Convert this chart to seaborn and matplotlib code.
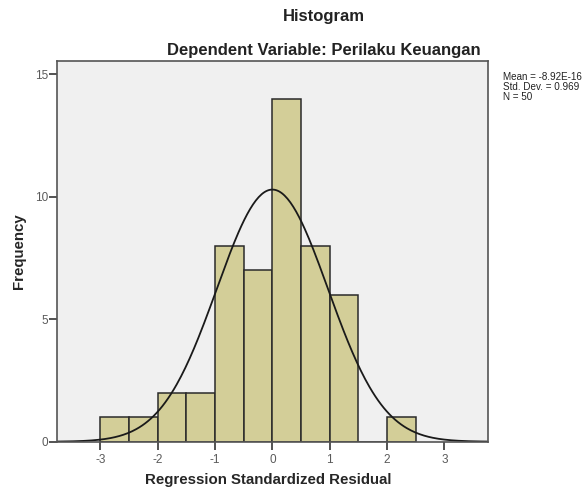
import numpy as np
import pandas as pd
import matplotlib.pyplot as plt
import seaborn as sns

# bins of width 0.5 from -3 to 2.5
bin_edges = [-3.0, -2.5, -2.0, -1.5, -1.0, -0.5, 0.0, 0.5, 1.0, 1.5, 2.0, 2.5]
counts    = [1, 1, 2, 2, 8, 7, 14, 8, 6, 0, 1]
mean_val  = -8.92e-16
std_val   = 0.969
n_obs     = 50

BAR_COLOR = '#D3CE98'
BG_COLOR  = '#F0F0F0'

sns.set_style('white')
plt.rcParams['font.family'] = ['Liberation Sans', 'DejaVu Sans']
plt.rcParams['axes.unicode_minus'] = False

df = pd.DataFrame({
    'center': [(bin_edges[i] + bin_edges[i + 1]) / 2 for i in range(len(counts))],
    'count': counts,
})

fig = plt.figure(figsize=(5.83, 4.88), dpi=100)
ax = fig.add_axes([0.0983, 0.0949, 0.7388, 0.780])
ax.set_facecolor(BG_COLOR)

sns.histplot(data=df, x='center', weights='count', bins=bin_edges,
             color=BAR_COLOR, alpha=1, edgecolor='#2a2a2a', linewidth=1.1, ax=ax)

# normal curve from the reported statistics
xs = np.linspace(-3.75, 3.75, 300)
binw = bin_edges[1] - bin_edges[0]
ys = n_obs * binw / (std_val * np.sqrt(2 * np.pi)) * np.exp(-0.5 * ((xs - mean_val) / std_val) ** 2)
sns.lineplot(x=xs, y=ys, color='#1a1a1a', linewidth=1.3, ax=ax)

ax.set_xlim(-3.75, 3.76)
ax.set_ylim(0, 15.54)
ax.set_xticks([-3, -2, -1, 0, 1, 2, 3])
ax.set_yticks([0, 5, 10, 15])
ax.tick_params(axis='both', direction='out', length=5.8, width=1.3, color='#444444',
               bottom=True, left=True, labelsize=8.5, labelcolor='#5a5a5a', pad=1)
ax.tick_params(axis='x', pad=3)
for s in ax.spines.values():
    s.set_color('#555555')
    s.set_linewidth(1.2)

ax.set_xlabel('Regression Standardized Residual', fontsize=10.8, fontweight='bold')
ax.set_ylabel('Frequency', fontsize=10.8, fontweight='bold')
ax.xaxis.set_label_coords((268 - 57.3) / 430.7, -(480 - 441.7) / 380.7)
ax.yaxis.set_label_coords((19 - 57.3) / 430.7, 0.5)
ax.xaxis.label.set_va('center')
ax.yaxis.label.set_va('center')

fig.text(324 / 583, 1 - 17 / 488, 'Histogram', ha='center', va='center',
         fontsize=12, fontweight='bold', color='#222222')
fig.text(324 / 583, 1 - 50 / 488, 'Dependent Variable: Perilaku Keuangan', ha='center',
         va='center', fontsize=12, fontweight='bold', color='#222222')
fig.text(503 / 583, 1 - 87 / 488,
         f'Mean = -8.92E-16\nStd. Dev. = {std_val}\nN = {n_obs}',
         ha='left', va='center', fontsize=7.1, linespacing=0.97, color='#222222')

fig.savefig('out.png', dpi=100)
